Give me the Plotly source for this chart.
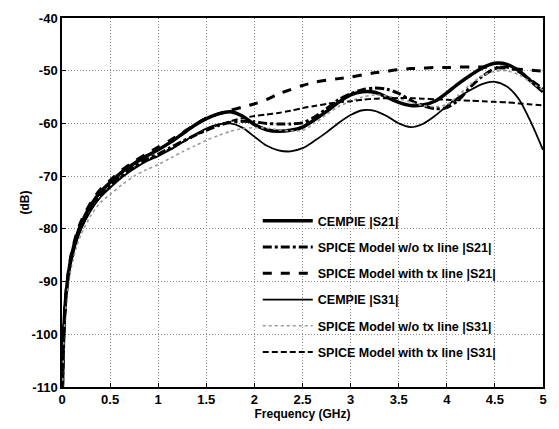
import plotly.graph_objects as go

freq = [0.005, 0.01, 0.02, 0.035, 0.05, 0.075, 0.1, 0.15, 0.2, 0.3, 0.4, 0.5,
        0.625, 0.75, 0.875, 1.0, 1.125, 1.25, 1.375, 1.5, 1.625, 1.75, 1.875,
        2.0, 2.125, 2.25, 2.375, 2.5, 2.625, 2.75, 2.875, 3.0, 3.125, 3.25,
        3.375, 3.5, 3.625, 3.75, 3.875, 4.0, 4.125, 4.25, 4.375, 4.5, 4.625,
        4.75, 4.875, 5.0]

cempie_s21 = [-110, -105, -99, -94, -91, -87.5, -85, -81.5, -79, -75.5, -73, -71.2,
              -69.2, -67.6, -66.2, -65, -63.6, -62, -60.4, -59.1, -58.2, -57.8, -58.6,
              -60.2, -61.2, -61.5, -61.3, -60.7, -59.3, -57.7, -56.0, -54.6, -54.0, -54.1,
              -55.0, -56.0, -56.6, -56.5, -55.8, -54.2, -52.4, -50.8, -49.4, -48.6, -48.8,
              -50.0, -52.0, -54.0]

spice_wo_s21 = [-110, -105.5, -99.5, -94.5, -91.5, -88, -85.5, -82, -79.5, -76, -73.6, -71.8,
                -69.8, -68.2, -66.8, -65.8, -64.6, -63.4, -62.3, -61.3, -60.4, -59.8, -59.6,
                -59.7, -60.0, -60.1, -60.1, -59.9, -58.8, -57.2, -55.5, -54.4, -53.6, -53.3,
                -53.5, -54.3, -55.6, -56.6, -57.2, -57.0, -55.5, -53.0, -51.0, -49.6, -49.3,
                -50.2, -51.8, -53.4]

spice_tx_s21 = [-110, -104.5, -98.5, -93.5, -90.5, -87, -84.5, -81, -78.5, -75, -72.5, -70.8,
                -68.8, -67.2, -65.8, -64.5, -63.2, -61.8, -60.3, -59, -58.2, -57.5, -56.9,
                -56.3, -55.5, -54.4, -53.6, -52.8, -52.2, -51.8, -51.5, -51.2, -50.8, -50.4,
                -50.1, -49.8, -49.6, -49.5, -49.4, -49.4, -49.3, -49.3, -49.3, -49.4, -49.5,
                -49.7, -49.9, -50.1]

cempie_s31 = [-110, -106, -100, -95, -92, -88.5, -86, -82.5, -80, -76.5, -74, -72.2,
              -70.2, -68.6, -67.2, -66.2, -65, -63.6, -62.2, -61, -60.2, -60, -60.8,
              -62.5, -64.2, -65.1, -65.3, -64.7, -63.3, -61.7, -59.9, -58.4, -57.5, -57.6,
              -58.6, -60.0, -60.7, -60.1, -58.6, -56.7, -55.0, -53.6, -52.5, -52.1, -53.0,
              -55.4, -59.8, -65.0]

spice_wo_s31 = [-110, -107, -101, -96, -93, -89.5, -87, -83.5, -81, -77.5, -75, -73.5,
                -71.6, -70, -68.8, -67.8, -66.6, -65.4, -64.3, -63.2, -62.3, -61.5, -61.0,
                -60.8, -60.9, -61.2, -61.4, -61.3, -60.0, -58.3, -56.8, -55.8, -55.0, -54.6,
                -54.8, -55.3, -56.0, -56.6, -56.8, -56.4, -54.6, -52.5, -50.9, -50.1, -50.0,
                -50.8, -52.2, -53.7]

spice_tx_s31 = [-110, -105.8, -99.8, -94.8, -91.8, -88.3, -85.8, -82.3, -79.8, -76.3, -73.8, -72.0,
                -70.0, -68.4, -67.0, -66.0, -64.8, -63.6, -62.4, -61.3, -60.3, -59.6, -59.0,
                -58.6, -58.3, -58.0, -57.6, -57.1, -56.7, -56.3, -56.0, -55.8, -55.5, -55.3,
                -55.2, -55.2, -55.2, -55.3, -55.4, -55.5, -55.6, -55.7, -55.8, -55.9, -56.0,
                -56.2, -56.4, -56.6]

names = ["CEMPIE |S21|", "SPICE Model w/o tx line |S21|", "SPICE Model with tx line |S21|",
         "CEMPIE |S31|", "SPICE Model w/o tx line |S31|", "SPICE Model with tx line |S31|"]
series = [cempie_s21, spice_wo_s21, spice_tx_s21, cempie_s31, spice_wo_s31, spice_tx_s31]
styles = [
    dict(color="black", width=3.5, dash="solid"),
    dict(color="black", width=3, dash="dashdot"),
    dict(color="black", width=3, dash="dash"),
    dict(color="black", width=1.8, dash="solid"),
    dict(color="#9a9a9a", width=1.6, dash="dot"),
    dict(color="black", width=2, dash="6px,3px"),
]

x_ticks = [0, 0.5, 1, 1.5, 2, 2.5, 3, 3.5, 4, 4.5, 5]
x_ticktext = ["0", "0.5", "1", "1.5", "2", "2.5", "3", "3.5", "4", "4.5", "5"]
y_ticks = [-110, -100, -90, -80, -70, -60, -50, -40]
y_ticktext = ["-110", "-100", "-90", "-80", "-70", "-60", "-50", "-40"]

fig = go.Figure()
for i, (nm, ys, st) in enumerate(zip(names, series, styles)):
    fig.add_trace(go.Scatter(x=freq, y=ys, mode="lines", name=nm,
                             line=dict(shape="spline", smoothing=0.8, **st),
                             legendgroup=str(i)))

fam = "Liberation Sans, Arial, sans-serif"
font = dict(family=fam, size=12, color="black", weight="bold")
tickfont = dict(family=fam, size=13, color="black", weight="bold")

axis_common = dict(showgrid=True, gridcolor="#8a8a8a", griddash="1px,2px", gridwidth=1,
                   showline=True, linecolor="black", linewidth=1.5, mirror=True,
                   ticks="inside", ticklen=4, tickcolor="black", zeroline=False,
                   tickfont=tickfont)

fig.update_layout(
    width=559, height=429,
    margin=dict(l=62, r=16, t=11, b=38),
    paper_bgcolor="white", plot_bgcolor="white",
    font=font,
    showlegend=True,
    legend=dict(x=0.407, y=0.49, xanchor="left", yanchor="top",
                bgcolor="rgba(0,0,0,0)", borderwidth=0,
                font=dict(family=fam, size=12.5, color="black", weight="bold"),
                itemwidth=50, traceorder="grouped", tracegroupgap=7),
    xaxis=dict(range=[0, 5], tickmode="array", tickvals=x_ticks, ticktext=x_ticktext,
               title=dict(text="Frequency (GHz)", standoff=2, font=font), **axis_common),
    yaxis=dict(range=[-110, -40], tickmode="array", tickvals=y_ticks, ticktext=y_ticktext,
               **axis_common),
    annotations=[dict(text="(dB)", xref="paper", yref="paper", x=-0.0788, y=0.5,
                      xanchor="center", yanchor="middle", textangle=-90,
                      showarrow=False, font=font)],
)

fig.write_html("out.html")
